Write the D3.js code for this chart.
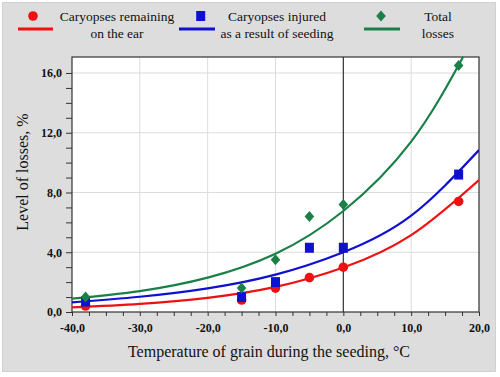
<!DOCTYPE html>
<html><head><meta charset="utf-8">
<script src="https://cdn.jsdelivr.net/npm/d3@7"></script>
<style>body{margin:0;background:#fff}svg{display:block}</style>
</head><body>
<svg id="c" width="500" height="377"></svg>
<script>
// ---- data ----
const temps = [-38, -15, -10, -5, 0, 17];
const remaining = [0.4, 0.8, 1.6, 2.3, 3.0, 7.4];
const injured = [0.7, 1.0, 2.0, 4.3, 4.3, 9.2];
const total = [1.0, 1.6, 3.5, 6.4, 7.2, 16.5];
// trend curves
const curveX = [-40, -30, -20, -10, 0, 10, 20];
const curveRemaining = [0.31, 0.55, 0.95, 1.68, 2.98, 5.15, 8.84];
const curveInjured = [0.65, 1.02, 1.58, 2.5, 4.0, 6.45, 10.84];
const curveTotalX = [-40, -30, -20, -10, 0, 10, 17.65];
const curveTotal = [0.9, 1.4, 2.3, 3.9, 6.76, 11.4, 17.07];
const xTicks = [-40, -30, -20, -10, 0, 10, 20];
const yTicks = [0, 4, 8, 12, 16];
const legendLabels = [["Caryopses remaining", "on the ear"], ["Caryopses injured", "as a result of seeding"], ["Total", "losses"]];
const colors = ["#ee1111", "#1010d0", "#1a8048"];

const FONT = "'Liberation Serif', 'Times New Roman', serif";
const fmt = d => d3.format(".1f")(d).replace(".", ",").replace("\u2212", "-");

const svg = d3.select("#c");
svg.append("rect").attr("x", 2.5).attr("y", 2.5).attr("width", 493).attr("height", 369)
  .attr("fill", "#dddddd").attr("stroke", "#d0d0d0");

const L = 72, R = 479, T = 57, B = 312;
const x = d3.scaleLinear().domain([-40, 20]).range([L, R]);
const y = d3.scaleLinear().domain([0, 17.07]).range([B, T]);

svg.append("rect").attr("x", L).attr("y", T).attr("width", R - L).attr("height", B - T).attr("fill", "#fff");
// grid
svg.append("g").selectAll("line").data(xTicks.filter(d => d > -40 && d < 20 && d !== 0)).join("line")
  .attr("x1", d => x(d)).attr("x2", d => x(d)).attr("y1", T).attr("y2", B).attr("stroke", "#dcdcdc");
svg.append("g").selectAll("line").data(yTicks.filter(d => d > 0)).join("line")
  .attr("x1", L).attr("x2", R).attr("y1", d => y(d)).attr("y2", d => y(d)).attr("stroke", "#dcdcdc");
svg.append("line").attr("x1", x(0)).attr("x2", x(0)).attr("y1", T).attr("y2", B).attr("stroke", "#333").attr("stroke-width", 1.2);

svg.append("clipPath").attr("id", "pc").append("rect").attr("x", L).attr("y", T - 3).attr("width", R - L).attr("height", B - T + 3);

// axes
const xAxis = d3.axisBottom(x).tickValues(d3.range(-40, 20.01, 2.5)).tickSize(4)
  .tickFormat(d => xTicks.includes(d) ? fmt(d) : "");
const gx = svg.append("g").attr("transform", `translate(0,${B})`).call(xAxis);
gx.select(".domain").remove();
gx.selectAll("line").attr("stroke", "#333");
gx.selectAll("text").attr("font-family", FONT).attr("font-weight", "bold").attr("font-size", 12)
  .attr("fill", "#111").attr("dy", "1.1em");

const yAxis = d3.axisLeft(y).tickValues(d3.range(0, 17, 1)).tickSize(6)
  .tickFormat(d => yTicks.includes(d) ? fmt(d) : "");
const gy = svg.append("g").attr("transform", `translate(${L},0)`).call(yAxis);
gy.select(".domain").remove();
gy.selectAll("line").attr("stroke", "#333");
gy.selectAll("text").attr("font-family", FONT).attr("font-weight", "bold").attr("font-size", 12)
  .attr("fill", "#111").attr("x", -10);

svg.append("rect").attr("x", L).attr("y", T).attr("width", R - L).attr("height", B - T)
  .attr("fill", "none").attr("stroke", "#333").attr("stroke-width", 1.2);

// curves
const line = d3.line().x(d => x(d[0])).y(d => y(d[1])).curve(d3.curveNatural);
const curves = [
  d3.zip(curveX, curveRemaining),
  d3.zip(curveX, curveInjured),
  d3.zip(curveTotalX, curveTotal)
];
const gc = svg.append("g").attr("clip-path", "url(#pc)");
curves.forEach((c, i) => {
  gc.append("path").attr("d", line(c)).attr("fill", "none").attr("stroke", colors[i]).attr("stroke-width", 2.2);
});

// markers
function drawMarker(g, type, cx, cy, col) {
  if (type === 0) g.append("circle").attr("cx", cx).attr("cy", cy).attr("r", 4.8).attr("fill", col);
  else if (type === 1) g.append("rect").attr("x", cx - 4.5).attr("y", cy - 5).attr("width", 9).attr("height", 10).attr("fill", col);
  else g.append("path").attr("d", `M${cx},${cy - 5.5}L${cx + 4.8},${cy}L${cx},${cy + 5.5}L${cx - 4.8},${cy}Z`).attr("fill", col);
}
const series = [remaining, injured, total];
const gm = svg.append("g");
[0, 1, 2].forEach(i => {
  temps.forEach((t, j) => drawMarker(gm, i, x(t), y(series[i][j]), colors[i]));
});

// legend
const legX = [[18, 53, 33], [179, 215, 200.7], [364, 400, 381]];
const legTextX = [117, 277, 438];
const lg = svg.append("g");
[0, 1, 2].forEach(i => {
  lg.append("line").attr("x1", legX[i][0]).attr("x2", legX[i][1]).attr("y1", 29).attr("y2", 29)
    .attr("stroke", colors[i]).attr("stroke-width", 3);
  drawMarker(lg, i, legX[i][2], 16, colors[i]);
  legendLabels[i].forEach((s, k) => {
    lg.append("text").attr("x", legTextX[i]).attr("y", 21 + k * 17).attr("text-anchor", "middle")
      .attr("font-family", FONT).attr("font-size", 13.5).attr("fill", "#111").text(s);
  });
});

// axis titles
svg.append("text").attr("x", 269).attr("y", 357).attr("text-anchor", "middle")
  .attr("font-family", FONT).attr("font-size", 16).attr("fill", "#111")
  .text("Temperature of  grain  during the seeding, °C");
svg.append("text").attr("transform", "translate(28,172) rotate(-90)").attr("text-anchor", "middle")
  .attr("font-family", FONT).attr("font-size", 16).attr("fill", "#111")
  .text("Level of losses, %");
</script>
</body></html>
